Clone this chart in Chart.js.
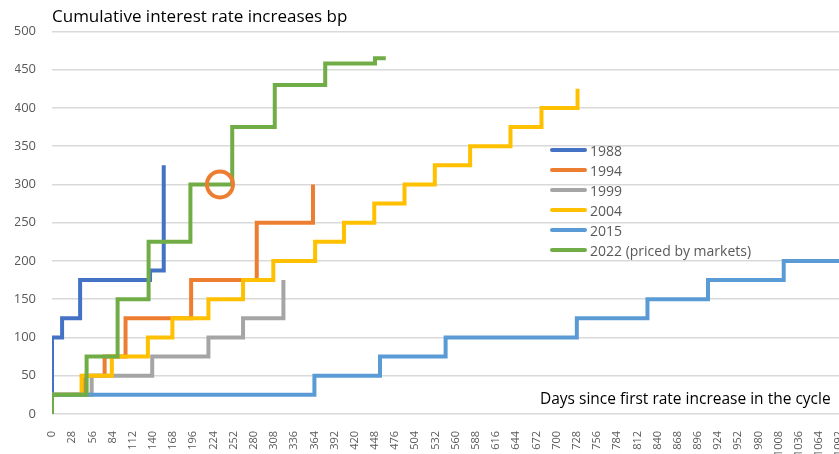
<!DOCTYPE html>
<html>
<head>
<meta charset="utf-8">
<script src="https://cdn.jsdelivr.net/npm/chart.js@4.4.1/dist/chart.umd.min.js"></script>
<style>
  html, body { margin: 0; padding: 0; overflow: hidden; background: #fff; }
  #wrap { position: relative; width: 862px; height: 454px; }
  #legend { position: absolute; left: 550px; top: 140px; font: 14px 'Open Sans', sans-serif; color: #595959; }
  #legend .item { height: 20px; display: flex; align-items: center; white-space: nowrap; }
  #legend .swatch { width: 37px; height: 4px; border-radius: 2px; margin-right: 3px; }
  #xnote { position: absolute; left: 540px; top: 387px; line-height: 22px; font: 15.5px 'Open Sans', sans-serif; color: #000; white-space: nowrap; }
</style>
</head>
<body>
<div id="wrap">
  <canvas id="chart" width="862" height="454"></canvas>
  <div id="legend"></div>
  <div id="xnote">Days since first rate increase in the cycle</div>
</div>
<script>
// days since first hike, cumulative bp (value holds from that day on)
var days1988 = [0, 0, 14, 39, 136, 155];
var bp1988   = [25, 100, 125, 175, 187.5, 325];

var days1994 = [0, 46, 73, 102, 193, 284, 362];
var bp1994   = [25, 50, 75, 125, 175, 250, 300];

var days1999 = [0, 55, 139, 217, 265, 321];
var bp1999   = [25, 50, 75, 100, 125, 175];

var days2004 = [0, 41, 83, 133, 167, 217, 265, 307, 365, 405, 447, 489, 531, 580, 636, 679, 729];
var bp2004   = [25, 50, 75, 100, 125, 150, 175, 200, 225, 250, 275, 300, 325, 350, 375, 400, 425];

var days2015 = [0, 364, 455, 546, 728, 826, 910, 1015, 1120];
var bp2015   = [25, 50, 75, 100, 125, 150, 175, 200, 200];

var days2022 = [0, 0, 48, 91, 134, 192, 250, 309, 379, 448, 463];
var bp2022   = [0, 25, 75, 150, 225, 300, 375, 430, 458, 465, 465];

var seriesNames  = ['1988', '1994', '1999', '2004', '2015', '2022 (priced by markets)'];
var seriesColors = ['#4472C4', '#ED7D31', '#A5A5A5', '#FFC000', '#5B9BD5', '#70AD47'];
var seriesDays   = [days1988, days1994, days1999, days2004, days2015, days2022];
var seriesBp     = [bp1988, bp1994, bp1999, bp2004, bp2015, bp2022];

// "we are here" marker
var markerDay = [233];
var markerBp  = [300];

var xTickStep = 28;
var yTickStep = 50;

function pairs(xs, ys) {
    for (var i = 0, out = []; i < xs.length; out.push({x: xs[i], y: ys[i]}), i++);
    return out;
}

Chart.defaults.font.family = "'Open Sans', sans-serif";

var datasets = seriesNames.map(function(name, i) {
    return {
        label: name,
        data: pairs(seriesDays[i], seriesBp[i]),
        borderColor: seriesColors[i],
        backgroundColor: seriesColors[i],
        borderWidth: 4,
        stepped: 'before',
        pointRadius: 0,
        fill: false,
        order: 10 - i
    };
});
datasets.push({
    label: 'now',
    data: pairs(markerDay, markerBp),
    showLine: false,
    pointRadius: 13,
    pointBorderWidth: 4,
    pointBorderColor: '#ED7D31',
    pointBackgroundColor: 'rgba(0,0,0,0)',
    order: 0
});

var ctx = document.getElementById('chart').getContext('2d');
var chart = new Chart(ctx, {
    type: 'line',
    data: { datasets: datasets },
    options: {
        responsive: false,
        animation: false,
        devicePixelRatio: 1,
        layout: { padding: { left: 15, right: 0, top: 0, bottom: 0 } },
        plugins: {
            legend: { display: false },
            tooltip: { enabled: false },
            title: {
                display: true,
                text: 'Cumulative interest rate increases bp',
                align: 'start',
                fullSize: false,
                color: '#000',
                font: { size: 17, weight: 'normal' },
                padding: { top: 7, bottom: 4 }
            }
        },
        scales: {
            x: {
                type: 'linear',
                min: 0,
                max: 1100,
                grid: { display: false },
                border: { display: false },
                afterFit: function(scale) {
                    scale.height = 40;
                    scale.paddingLeft = 0;
                    scale.paddingRight = 0;
                },
                ticks: {
                    stepSize: xTickStep,
                    includeBounds: false,
                    autoSkip: false,
                    minRotation: 90,
                    maxRotation: 90,
                    padding: 9,
                    color: '#595959',
                    font: { size: 11 },
                    callback: function(v) { return String(v); }
                }
            },
            y: {
                min: 0,
                max: 500,
                grid: { color: '#D9D9D9', lineWidth: 1.5, drawTicks: false },
                border: { display: false },
                afterFit: function(scale) {
                    scale.width = 37;
                    scale.paddingTop = 0;
                },
                ticks: {
                    stepSize: yTickStep,
                    padding: 16,
                    color: '#595959',
                    font: { size: 13 }
                }
            }
        }
    }
});

var legend = document.getElementById('legend');
chart.data.datasets.forEach(function(ds) {
    if (ds.label === 'now') return;
    var row = document.createElement('div');
    row.className = 'item';
    var sw = document.createElement('span');
    sw.className = 'swatch';
    sw.style.background = ds.borderColor;
    row.appendChild(sw);
    row.appendChild(document.createTextNode(ds.label));
    legend.appendChild(row);
});
</script>
</body>
</html>
